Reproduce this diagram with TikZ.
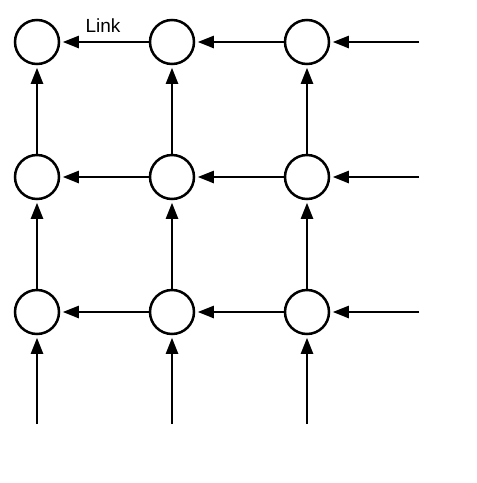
\documentclass[tikz,border=0pt]{standalone}
\usepackage{fontspec}
\setmainfont{Liberation Sans}
\usetikzlibrary{arrows.meta}
\begin{document}
\begin{tikzpicture}[x=1pt,y=-1pt,
  cell/.style={circle,draw,line width=2.5pt,minimum size=44pt,inner sep=0pt},
  link/.style={line width=2.4pt,-{Triangle[length=16pt,width=12pt]},shorten >=2.5pt}]
\useasboundingbox (0,0) rectangle (477,483);
\foreach \c/\x in {1/37,2/172,3/307}{
  \foreach \r/\y in {1/42,2/177,3/312}{
    \node[cell] (n\r\c) at (\x,\y) {};
  }
  \coordinate (b\c) at (\x,424);
}
\foreach \r/\y in {1/42,2/177,3/312}{
  \coordinate (e\r) at (419,\y);
}
\foreach \r in {1,2,3}{
  \draw[link] (e\r) -- (n\r3);
  \draw[link] (n\r3) -- (n\r2);
  \draw[link] (n\r2) -- (n\r1);
}
\foreach \c in {1,2,3}{
  \draw[link] (b\c) -- (n3\c);
  \draw[link] (n3\c) -- (n2\c);
  \draw[link] (n2\c) -- (n1\c);
}
\node[font=\fontsize{19}{21}\selectfont,inner sep=0pt] (lbl) at (103,26) {Link};
\end{tikzpicture}
\end{document}
